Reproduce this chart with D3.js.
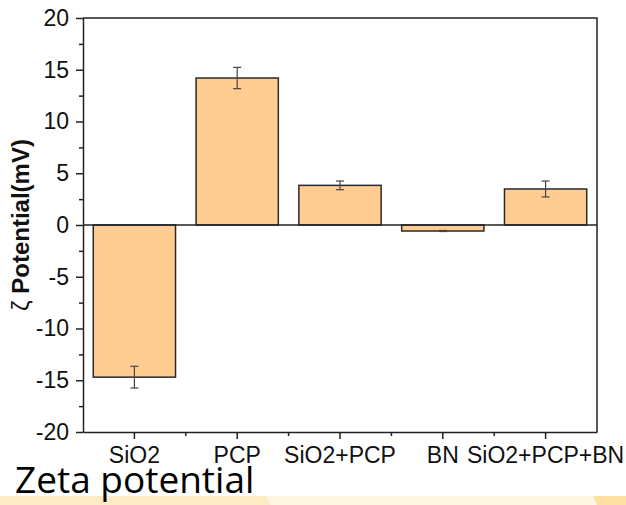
<!DOCTYPE html>
<html>
<head>
<meta charset="utf-8">
<script src="https://cdn.jsdelivr.net/npm/d3@7"></script>
<style>
  body { margin: 0; background: #fff; }
  svg { display: block; }
  .tick text { font-family: "Liberation Sans", Arial, sans-serif; }
</style>
</head>
<body>
<svg id="viz" width="626" height="505"></svg>
<script>
// zeta potential of each sample (mV) and std error
var samples = ["SiO2", "PCP", "SiO2+PCP", "BN", "SiO2+PCP+BN"]
var zeta = [-14.7, 14.2, 3.83, -0.58, 3.48]
var zetaErr = [1.05, 1.03, 0.42, 0.05, 0.77]
var yTicks = [-20, -15, -10, -5, 0, 5, 10, 15, 20]

var W = 626, H = 505
var margin = {top: 18, right: 29, bottom: 73, left: 83}
var svg = d3.select("#viz")

// bottom decoration strip
svg.append("rect").attr("x", 0).attr("y", 496).attr("width", W).attr("height", 9).attr("fill", "#fff6e3")
svg.append("path").attr("d", "M0,496 L266,496 L271,505 L0,505 Z").attr("fill", "#fdebc6")
svg.append("path").attr("d", "M593,496 L626,496 L626,505 L597,505 Z").attr("fill", "#fde0a1")

var x = d3.scaleBand()
  .domain(samples)
  .range([margin.left, W - margin.right])
  .paddingInner(0.2)
  .paddingOuter(0.1)

var y = d3.scaleLinear()
  .domain([-20, 20])
  .range([H - margin.bottom, margin.top])

var data = samples.map(function(s, i){ return {name: s, v: zeta[i], e: zetaErr[i]} })

// bars
svg.append("g").selectAll("rect")
  .data(data)
  .enter()
  .append("rect")
  .attr("x", d => x(d.name))
  .attr("width", x.bandwidth())
  .attr("y", d => y(Math.max(0, d.v)))
  .attr("height", d => Math.abs(y(d.v) - y(0)))
  .attr("fill", "#ffcc91")
  .attr("stroke", "#2a2a2a")
  .attr("stroke-width", 1.5)

// error bars
var eg = svg.append("g").attr("stroke", "#444").attr("stroke-width", 1.2)
data.forEach(d => {
  var cx = x(d.name) + x.bandwidth() / 2
  eg.append("line").attr("x1", cx).attr("x2", cx).attr("y1", y(d.v - d.e)).attr("y2", y(d.v + d.e))
  eg.append("line").attr("x1", cx - 4).attr("x2", cx + 4).attr("y1", y(d.v - d.e)).attr("y2", y(d.v - d.e))
  eg.append("line").attr("x1", cx - 4).attr("x2", cx + 4).attr("y1", y(d.v + d.e)).attr("y2", y(d.v + d.e))
})

// zero line
svg.append("line")
  .attr("x1", margin.left).attr("x2", W - margin.right)
  .attr("y1", y(0)).attr("y2", y(0))
  .attr("stroke", "#222").attr("stroke-width", 1.5)

// frame top + right
svg.append("path")
  .attr("d", `M${margin.left},${margin.top}H${W - margin.right}V${H - margin.bottom}`)
  .attr("fill", "none").attr("stroke", "#222").attr("stroke-width", 1.5)

// minor ticks y
var minorY = d3.range(-17.5, 20, 5)
svg.append("g")
  .attr("transform", `translate(${margin.left},0)`)
  .call(d3.axisLeft(y).tickValues(minorY).tickSize(4).tickFormat(""))
  .call(g => g.select(".domain").remove())
  .selectAll("line").attr("stroke", "#222").attr("stroke-width", 1.5)

var yAxis = svg.append("g")
  .attr("transform", `translate(${margin.left},0)`)
  .call(d3.axisLeft(y).tickValues(yTicks).tickSize(7).tickPadding(7).tickSizeOuter(0)
    .tickFormat(d => String(d)))
yAxis.select(".domain").attr("stroke", "#222").attr("stroke-width", 1.5)
yAxis.selectAll("line").attr("stroke", "#222").attr("stroke-width", 1.5)
yAxis.selectAll("text").attr("font-size", 23).attr("fill", "#111")

// x axis: major ticks at bar centres, minor between
var xAxis = svg.append("g")
  .attr("transform", `translate(0,${H - margin.bottom})`)
  .call(d3.axisBottom(x).tickSize(7).tickPadding(8).tickSizeOuter(0))
xAxis.select(".domain").attr("stroke", "#222").attr("stroke-width", 1.5)
xAxis.selectAll("line").attr("stroke", "#222").attr("stroke-width", 1.5)
xAxis.selectAll("text").attr("font-size", 23).attr("fill", "#111")

var step = x.step()
svg.append("g").selectAll("line")
  .data(samples.slice(1))
  .enter()
  .append("line")
  .attr("x1", d => x(d) - (step - x.bandwidth()) / 2)
  .attr("x2", d => x(d) - (step - x.bandwidth()) / 2)
  .attr("y1", H - margin.bottom).attr("y2", H - margin.bottom + 4)
  .attr("stroke", "#222").attr("stroke-width", 1.5)

// y label
var yl = svg.append("text")
  .attr("transform", `translate(29,${(margin.top + H - margin.bottom) / 2}) rotate(-90)`)
  .attr("text-anchor", "middle")
  .attr("font-family", "Liberation Sans, Arial, sans-serif")
  .attr("font-size", 24)
  .attr("fill", "#111")
yl.append("tspan").text("ζ ")
yl.append("tspan").attr("font-weight", "bold").text("Potential(mV)")

// caption
svg.append("text")
  .attr("x", 15).attr("y", 493)
  .attr("font-family", "Open Sans, sans-serif")
  .attr("font-size", 37)
  .attr("fill", "#000")
  .text("Zeta potential")
</script>
</body>
</html>
